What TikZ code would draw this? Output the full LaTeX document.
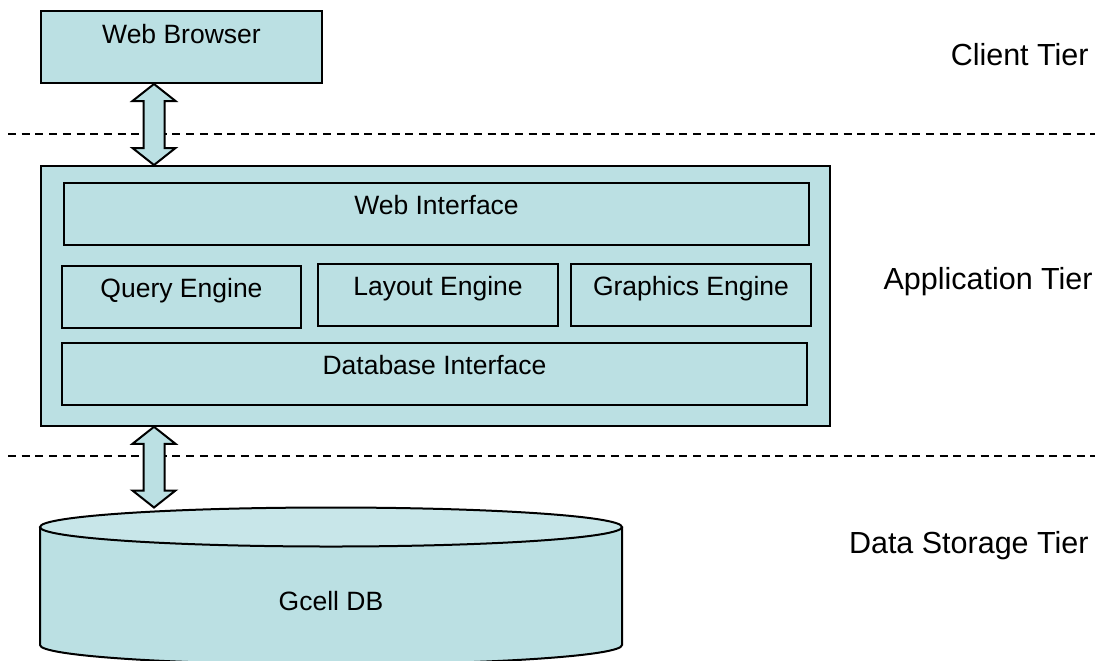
\documentclass[tikz,border=0pt]{standalone}
\usepackage{fontspec}
\setmainfont{Liberation Sans}
\usetikzlibrary{calc}
\definecolor{tierfill}{HTML}{BBE0E3}
\definecolor{captop}{HTML}{C8E6E9}

% fat two-headed arrow between two points on a vertical line
\newcommand\bidiarrow[2]{%
  \draw[fatarrow] (#1) -- ($(#1)+(21.5,17)$) -- ($(#1)+(10.5,17)$)
    -- ($(#2)+(10.5,-17)$) -- ($(#2)+(21.5,-17)$) -- (#2)
    -- ($(#2)+(-21.5,-17)$) -- ($(#2)+(-10.5,-17)$)
    -- ($(#1)+(-10.5,17)$) -- ($(#1)+(-21.5,17)$) -- cycle;}

\begin{document}
\begin{tikzpicture}[x=0.5pt,y=-0.5pt,
  comp/.style={draw, line width=1pt, fill=tierfill, rectangle, inner sep=0pt,
    anchor=north west, font=\fontsize{13.25}{15}\selectfont,
    text height=15.5pt, text depth=15.5pt},
  container/.style={draw, line width=0.9pt, fill=tierfill, rectangle,
    inner sep=0pt, anchor=north west},
  tier/.style={font=\fontsize{15.25}{18}\selectfont, anchor=base east, inner sep=0pt},
  fatarrow/.style={draw, line width=1pt, fill=tierfill, line join=miter},
  divider/.style={line width=0.75pt, dash pattern=on 4pt off 2.85pt}]

\useasboundingbox (0,0) rectangle (1102,660);
\clip (0,0) rectangle (1102,660);

% tier separators
\coordinate (div1w) at (8,134);  \coordinate (div1e) at (1095,134);
\coordinate (div2w) at (8,456);  \coordinate (div2e) at (1095,456);
\draw[divider] (div1w) -- (div1e);
\draw[divider] (div2w) -- (div2e);

% client tier
\node[comp, minimum width=140.5pt, text height=16.35pt, text depth=19.65pt]
  (browser) at (40,10) {Web Browser};

% application tier
\node[container, minimum width=394.5pt, minimum height=130pt] (app) at (40,165) {};
\node[comp, minimum width=372.5pt] (webif) at (63,182) {Web Interface};
\node[comp, minimum width=119.5pt] (query) at (61,265) {Query Engine};
\node[comp, minimum width=120pt] (layout) at (317,263) {Layout Engine};
\node[comp, minimum width=120pt] (graphics) at (570,263) {Graphics Engine};
\node[comp, minimum width=372.5pt] (dbif) at (61,342) {Database Interface};

% data storage tier: cylinder
\fill[tierfill] (40,527) -- (40,645)
  .. controls (40,655.77) and (170.3,664.5) .. (331,664.5)
  .. controls (491.7,664.5) and (622,655.77) .. (622,645) -- (622,527) -- cycle;
\draw[line width=1pt] (40,527) -- (40,645)
  .. controls (40,655.77) and (170.3,664.5) .. (331,664.5)
  .. controls (491.7,664.5) and (622,655.77) .. (622,645) -- (622,527);
\draw[line width=1pt, fill=captop] (331,527) ellipse [x radius=291, y radius=19.5];
\coordinate (dbtop) at (331,507.5);
\node[font=\fontsize{13.25}{15}\selectfont, anchor=base, inner sep=0pt]
  (gcell) at (331,610) {Gcell DB};

% connectors between tiers
\coordinate (a1s) at ($(browser.south west)+(114,0)$);
\coordinate (a1e) at (a1s |- app.north);
\bidiarrow{a1s}{a1e}
\coordinate (a2s) at ($(app.south west)+(114,0)$);
\coordinate (a2e) at (a2s |- dbtop);
\bidiarrow{a2s}{a2e}

% tier labels
\node[tier] (client) at (1089,65) {Client Tier};
\node[tier] (apptier) at (1093,289) {Application Tier};
\node[tier] (datatier) at (1089,553) {Data Storage Tier};
\end{tikzpicture}
\end{document}
